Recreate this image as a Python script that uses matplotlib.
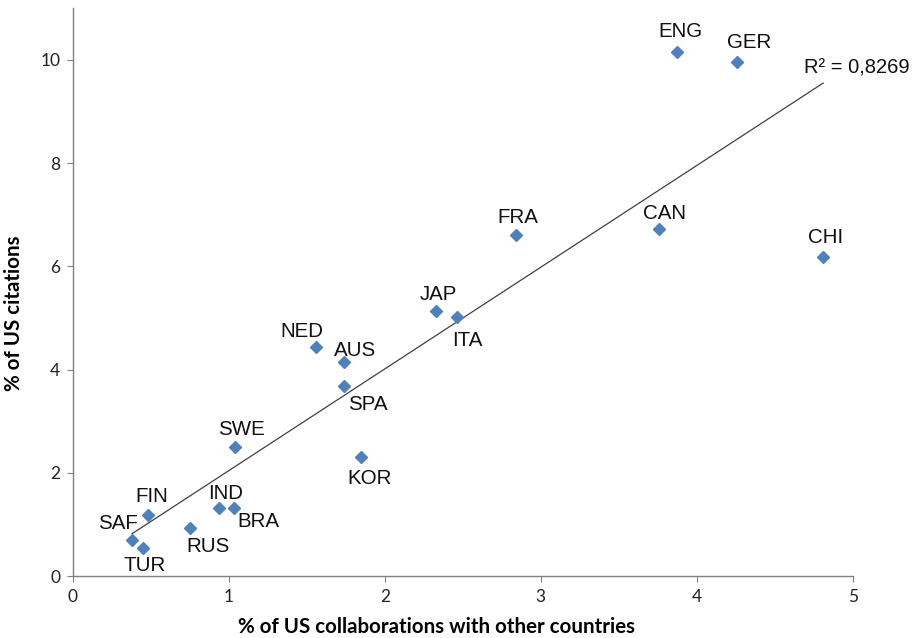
import numpy as np
import matplotlib.pyplot as plt

# Country codes and values
countries = ["ENG", "GER", "CHI", "CAN", "FRA", "JAP", "ITA", "NED", "AUS",
             "SPA", "SWE", "KOR", "FIN", "IND", "BRA", "RUS", "SAF", "TUR"]
collab = [3.87, 4.26, 4.81, 3.76, 2.84, 2.33, 2.46, 1.56, 1.74,
          1.74, 1.04, 1.85, 0.48, 0.94, 1.03, 0.75, 0.38, 0.45]
citations = [10.15, 9.96, 6.19, 6.73, 6.60, 5.13, 5.01, 4.43, 4.14,
             3.69, 2.51, 2.30, 1.18, 1.32, 1.32, 0.93, 0.70, 0.54]
r2_label = "R² = 0,8269"

# label offsets in pixels (dx, dy) relative to each point
offsets = {"ENG": (4, 21), "GER": (12, 19), "CHI": (2, 19), "CAN": (5, 15),
           "FRA": (2, 18), "JAP": (2, 17), "ITA": (11, -23), "NED": (-14, 16),
           "AUS": (11, 12), "SPA": (23, -19), "SWE": (6, 17), "KOR": (8, -21),
           "FIN": (4, 19), "IND": (6, 14), "BRA": (25, -14), "RUS": (18, -18),
           "SAF": (-14, 16), "TUR": (2, -17)}

fig = plt.figure(figsize=(9.22, 6.38), dpi=100)
ax = fig.add_axes([0.079, 0.097, 0.846, 0.890])

x = np.array(collab)
y = np.array(citations)

# linear trendline over the data range
slope, inter = np.polyfit(x, y, 1)
xl = np.array([x.min(), x.max()])
ax.plot(xl, slope * xl + inter, color="#404040", lw=0.9, zorder=1)

ax.plot(x, y, linestyle="none", marker="D", markersize=5.8,
        color="#4F81BD", zorder=2)

for c, xi, yi in zip(countries, collab, citations):
    dx, dy = offsets[c]
    ax.annotate(c, (xi, yi), xytext=(dx, dy), textcoords="offset pixels",
                ha="center", va="center", fontsize=14.8,
                family="Liberation Sans", color="#111111")

ax.annotate(r2_label, (xl[1], slope * xl[1] + inter), xytext=(-19, 15),
            textcoords="offset pixels", ha="left", va="center",
            fontsize=14.5, family="Liberation Sans", color="#111111")

ax.set_xlim(0, 5)
ax.set_ylim(0, 11)
ax.set_xticks([0, 1, 2, 3, 4, 5])
ax.set_yticks([0, 2, 4, 6, 8, 10])
ax.spines["top"].set_visible(False)
ax.spines["right"].set_visible(False)
for s in ["left", "bottom"]:
    ax.spines[s].set_color("#808080")
    ax.spines[s].set_linewidth(1.0)
ax.tick_params(direction="out", length=4, color="#808080", width=0.8,
               labelsize=12.5, labelcolor="#222222", pad=5)
for lab in ax.get_xticklabels() + ax.get_yticklabels():
    lab.set_family("Lato")

ax.set_xlabel("% of US collaborations with other countries", fontsize=14.8,
              fontweight="bold", family="Lato")
ax.xaxis.set_label_coords(0.466, -0.072)
ax.set_ylabel("% of US citations", fontsize=14.8, fontweight="bold",
              family="Lato")
ax.yaxis.set_label_coords(-0.062, 0.463)

fig.savefig("out.png", dpi=100)
